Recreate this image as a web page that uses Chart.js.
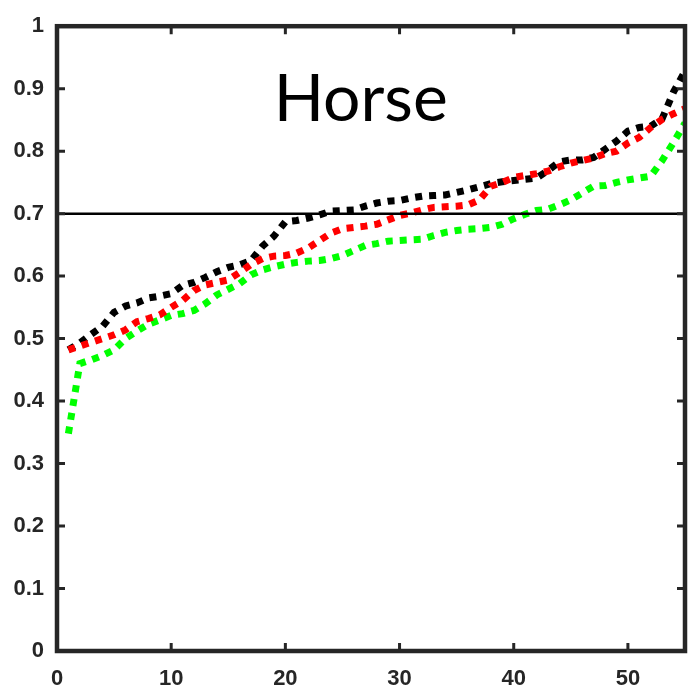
<!DOCTYPE html>
<html>
<head>
<meta charset="utf-8">
<script src="https://cdn.jsdelivr.net/npm/chart.js@4"></script>
<style>
    html, body { margin: 0; padding: 0; background: #fff; }
    #wrap { width: 688px; height: 691px; }
</style>
</head>
<body>
<div id="wrap"><canvas id="grafico"></canvas></div>
<script>
/* DADOS */
const posicoes = [1, 2, 3, 4, 5, 6, 7, 8, 9, 10, 11, 12, 13, 14, 15, 16, 17, 18, 19, 20,
    21, 22, 23, 24, 25, 26, 27, 28, 29, 30, 31, 32, 33, 34, 35, 36, 37, 38, 39, 40,
    41, 42, 43, 44, 45, 46, 47, 48, 49, 50, 51, 52, 53, 54, 55];

const seriePreta = [0.482, 0.493, 0.507, 0.520, 0.542, 0.552, 0.557, 0.565, 0.568, 0.572,
    0.585, 0.590, 0.598, 0.607, 0.614, 0.618, 0.625, 0.648, 0.664, 0.687,
    0.689, 0.693, 0.698, 0.704, 0.705, 0.706, 0.712, 0.717, 0.720, 0.721,
    0.725, 0.728, 0.729, 0.730, 0.734, 0.738, 0.743, 0.748, 0.751, 0.753,
    0.755, 0.757, 0.769, 0.783, 0.786, 0.786, 0.790, 0.803, 0.816, 0.832,
    0.838, 0.840, 0.852, 0.895, 0.928];

const serieVermelha = [0.482, 0.488, 0.494, 0.500, 0.506, 0.514, 0.527, 0.532, 0.538, 0.550,
    0.561, 0.577, 0.586, 0.590, 0.594, 0.606, 0.619, 0.628, 0.632, 0.633,
    0.637, 0.645, 0.657, 0.669, 0.676, 0.678, 0.680, 0.683, 0.690, 0.697,
    0.701, 0.706, 0.710, 0.711, 0.712, 0.714, 0.722, 0.744, 0.750, 0.758,
    0.761, 0.764, 0.768, 0.775, 0.781, 0.785, 0.789, 0.796, 0.800, 0.813,
    0.822, 0.838, 0.851, 0.860, 0.868];

const serieVerde = [0.348, 0.460, 0.466, 0.473, 0.482, 0.500, 0.512, 0.523, 0.530, 0.537,
    0.540, 0.545, 0.556, 0.570, 0.579, 0.588, 0.602, 0.610, 0.615, 0.619,
    0.622, 0.624, 0.625, 0.628, 0.633, 0.641, 0.649, 0.652, 0.656, 0.657,
    0.658, 0.659, 0.665, 0.670, 0.673, 0.675, 0.676, 0.678, 0.683, 0.692,
    0.699, 0.705, 0.707, 0.714, 0.722, 0.733, 0.744, 0.745, 0.750, 0.754,
    0.757, 0.760, 0.785, 0.814, 0.845];

const limiar = 0.7;
const xLimites = [0, 55];
const xTicks = [0, 10, 20, 30, 40, 50];
const yTicks = [0, 0.1, 0.2, 0.3, 0.4, 0.5, 0.6, 0.7, 0.8, 0.9, 1];
const yRotulos = ["0", "0.1", "0.2", "0.3", "0.4", "0.5", "0.6", "0.7", "0.8", "0.9", "1"];
const titulo = "Horse";

/* ESTILO */
const corEixo = "#262626";
const fonteTicks = { family: "'Liberation Sans', Arial, sans-serif", size: 22, weight: "bold" };

function pontos(valores) {
    return posicoes.map((x, i) => ({ x: x, y: valores[i] }));
}

function linhaPontilhada(valores, cor) {
    return {
        data: pontos(valores),
        borderColor: cor,
        borderWidth: 7,
        borderDash: [7, 7],
        borderCapStyle: "butt",
        pointRadius: 0,
        tension: 0,
        fill: false
    };
}

/* ----------------------------------------------------------------------
   CAIXA DOS EIXOS + TICKS PARA DENTRO + TITULO
---------------------------------------------------------------------- */
const caixaPlugin = {
    id: "caixa",
    afterDatasetsDraw(chart) {
        const { ctx, chartArea: a, scales } = chart;
        ctx.save();
        ctx.strokeStyle = corEixo;
        ctx.lineWidth = 3;
        const tl = 8;
        xTicks.forEach(v => {
            if (v === xLimites[0]) return;
            const px = scales.x.getPixelForValue(v);
            ctx.beginPath();
            ctx.moveTo(px, a.bottom); ctx.lineTo(px, a.bottom - tl);
            ctx.moveTo(px, a.top); ctx.lineTo(px, a.top + tl);
            ctx.stroke();
        });
        yTicks.forEach(v => {
            const py = scales.y.getPixelForValue(v);
            ctx.beginPath();
            ctx.moveTo(a.left, py); ctx.lineTo(a.left + tl, py);
            ctx.moveTo(a.right, py); ctx.lineTo(a.right - tl, py);
            ctx.stroke();
        });
        ctx.lineWidth = 4.5;
        ctx.strokeRect(a.left, a.top, a.right - a.left, a.bottom - a.top);

        ctx.fillStyle = "#000";
        ctx.font = "66px Lato, 'Open Sans', sans-serif";
        ctx.textAlign = "center";
        ctx.textBaseline = "alphabetic";
        ctx.fillText(titulo, scales.x.getPixelForValue(26.6), scales.y.getPixelForValue(0.848));
        ctx.restore();
    }
};

/* ----------------------------------------------------------------------
   GRAFICO
---------------------------------------------------------------------- */
new Chart(document.querySelector("#grafico"), {
    type: "line",
    data: {
        datasets: [
            {
                data: [{ x: xLimites[0], y: limiar }, { x: xLimites[1], y: limiar }],
                borderColor: "#000",
                borderWidth: 2.5,
                pointRadius: 0
            },
            linhaPontilhada(serieVermelha, "#ff0000"),
            linhaPontilhada(serieVerde, "#00ff00"),
            linhaPontilhada(seriePreta, "#000000")
        ]
    },
    options: {
        responsive: true,
        maintainAspectRatio: false,
        animation: false,
        layout: { padding: { top: 21, right: 3, left: 0, bottom: 0 } },
        plugins: {
            legend: { display: false },
            tooltip: { enabled: false }
        },
        scales: {
            x: {
                type: "linear",
                min: xLimites[0],
                max: xLimites[1],
                afterBuildTicks: s => { s.ticks = xTicks.map(v => ({ value: v })); },
                afterFit: s => { s.height = 40; },
                grid: { display: false, drawTicks: false },
                border: { display: false },
                ticks: { color: corEixo, font: fonteTicks, padding: 15, maxRotation: 0 }
            },
            y: {
                type: "linear",
                min: 0,
                max: 1,
                afterBuildTicks: s => { s.ticks = yTicks.map(v => ({ value: v })); },
                afterFit: s => { s.width = 57; },
                grid: { display: false, drawTicks: false },
                border: { display: false },
                ticks: {
                    color: corEixo,
                    font: fonteTicks,
                    padding: 13,
                    callback: (v, i) => yRotulos[i]
                }
            }
        }
    },
    plugins: [caixaPlugin]
});
</script>
</body>
</html>
